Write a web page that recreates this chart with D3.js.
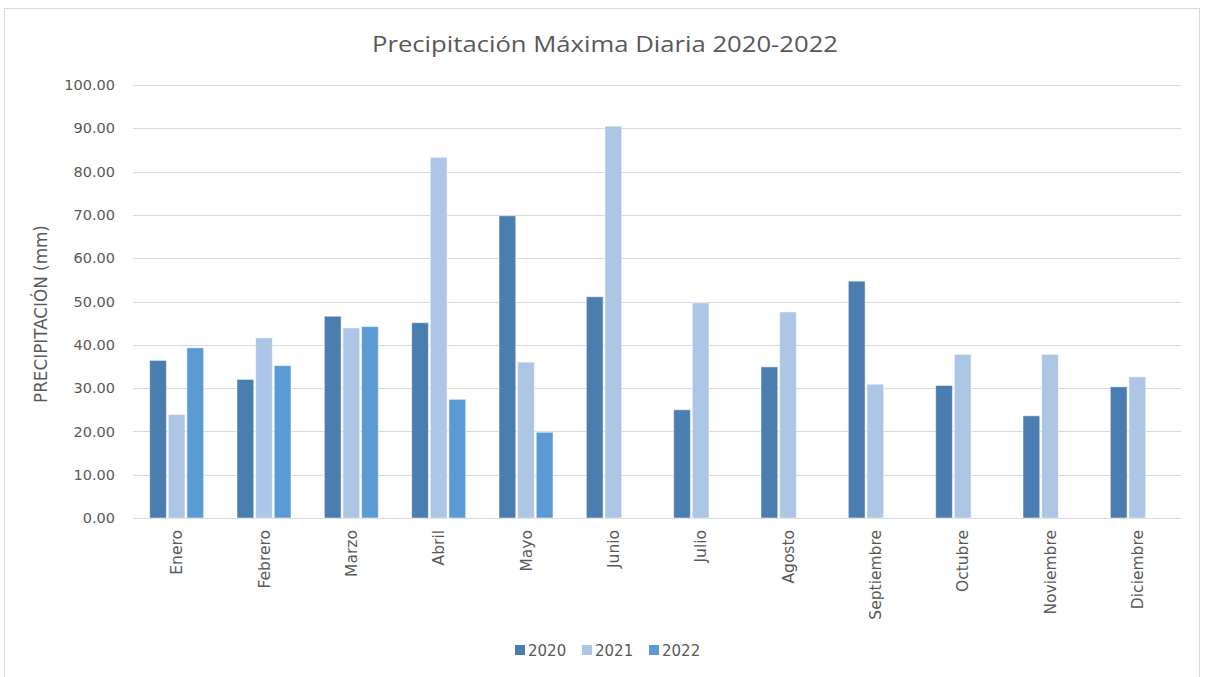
<!DOCTYPE html>
<html>
<head>
<meta charset="utf-8">
<script src="https://cdn.jsdelivr.net/npm/d3@7"></script>
<style>
  body { margin: 0; background: #fff; }
  text { font-family: "DejaVu Sans", Verdana, sans-serif; fill: #595959; }
</style>
</head>
<body>
<div id="chart"></div>
<script>
var width = 1207,
    height = 677;

// months on x axis
const months = ["Enero", "Febrero", "Marzo", "Abril", "Mayo", "Junio", "Julio",
    "Agosto", "Septiembre", "Octubre", "Noviembre", "Diciembre"];

const years = ["2020", "2021", "2022"];

// max daily rain per month (mm)
const values2020 = [36.4, 32.0, 46.6, 45.1, 69.8, 51.1, 25.0, 34.9, 54.7, 30.6, 23.6, 30.3];
const values2021 = [23.9, 41.6, 43.9, 83.3, 36.0, 90.5, 49.7, 47.6, 30.9, 37.8, 37.8, 32.6];
const values2022 = [39.3, 35.2, 44.2, 27.4, 19.8, null, null, null, null, null, null, null];

const yTicks = [0, 10, 20, 30, 40, 50, 60, 70, 80, 90, 100];

const colors = ["#4a7eb0", "#aec6e6", "#5b9bd5"];

const series = [values2020, values2021, values2022];

var margin = { left: 133, right: 26, top: 85, bottom: 159 };

var svg = d3.select("#chart")
    .append("svg")
    .attr("width", width)
    .attr("height", height);

// outer chart border
svg.append("rect")
    .attr("x", 4.5)
    .attr("y", 8.5)
    .attr("width", 1195)
    .attr("height", 680)
    .attr("fill", "none")
    .attr("stroke", "#d9d9d9");

var x = d3.scaleBand()
    .domain(months)
    .range([margin.left, width - margin.right]);

var xSub = d3.scaleBand()
    .domain(years)
    .range([0, 54])
    .paddingInner(0.1);

var y = d3.scaleLinear()
    .domain([0, 100])
    .range([height - margin.bottom, margin.top]);

// gridlines
svg.append("g")
    .selectAll("line")
    .data(yTicks)
    .join("line")
    .attr("x1", margin.left)
    .attr("x2", width - margin.right)
    .attr("y1", d => Math.round(y(d)) + 0.5)
    .attr("y2", d => Math.round(y(d)) + 0.5)
    .attr("stroke", "#d9d9d9")
    .attr("stroke-width", 1);

// y axis
svg.append("g")
    .attr("transform", "translate(" + margin.left + ",0)")
    .call(d3.axisLeft(y)
        .tickValues(yTicks)
        .tickSize(0)
        .tickPadding(18)
        .tickFormat(d3.format(".2f")))
    .call(g => g.select(".domain").remove())
    .selectAll("text")
    .style("font-size", "14.5px")
    .attr("fill", "#595959");

// bars
var rows = [];
months.forEach(function (m, i) {
    years.forEach(function (yr, j) {
        if (series[j][i] != null) rows.push({ month: m, year: yr, value: series[j][i], k: j });
    });
});

svg.append("g")
    .selectAll("rect")
    .data(rows)
    .join("rect")
    .attr("x", d => x(d.month) + (x.bandwidth() - 54) / 2 + xSub(d.year))
    .attr("width", xSub.bandwidth())
    .attr("y", d => y(d.value))
    .attr("height", d => y(0) - y(d.value))
    .attr("fill", d => colors[d.k])
    .attr("stroke", "#ffffff")
    .attr("stroke-opacity", 0.5)
    .attr("stroke-width", 1);

// month labels
svg.append("g")
    .selectAll("text")
    .data(months)
    .join("text")
    .attr("transform", d => "translate(" + (x(d) + x.bandwidth() / 2 + 5.5) + "," + 530 + ") rotate(-90)")
    .attr("text-anchor", "end")
    .style("font-size", "15.5px")
    .text(d => d);

// y axis title
svg.append("text")
    .attr("transform", "translate(47,314) rotate(-90)")
    .attr("text-anchor", "middle")
    .style("font-size", "16.8px")
    .text("PRECIPITACIÓN (mm)");

// title
svg.append("text")
    .attr("x", 605)
    .attr("y", 52)
    .attr("text-anchor", "middle")
    .style("font-family", "'Open Sans', sans-serif")
    .style("font-size", "22px")
    .attr("textLength", 466)
    .attr("lengthAdjust", "spacingAndGlyphs")
    .text("Precipitación Máxima Diaria 2020-2022");

// legend
var legend = svg.append("g")
    .attr("transform", "translate(515,645)");

var items = legend.selectAll("g")
    .data(years)
    .join("g")
    .attr("transform", (d, i) => "translate(" + (i * 67) + ",0)");

items.append("rect")
    .attr("width", 10)
    .attr("height", 10)
    .attr("fill", (d, i) => colors[i]);

items.append("text")
    .attr("x", 13)
    .attr("y", 10.5)
    .style("font-size", "15px")
    .text(d => d);
</script>
</body>
</html>
